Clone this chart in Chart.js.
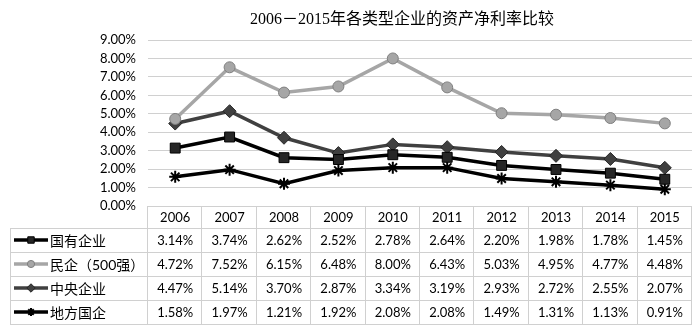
<!DOCTYPE html>
<html>
<head>
<meta charset="utf-8">
<script src="https://cdn.jsdelivr.net/npm/chart.js@4/dist/chart.umd.min.js"></script>
<style>
  html, body { margin: 0; padding: 0; background: #fff; }
  #wrap { width: 700px; height: 329px; position: relative; }
</style>
</head>
<body>
<div id="wrap"><canvas id="chart_assetReturn"></canvas></div>
<script>
var chartTitle = '2006－2015年各类型企业的资产净利率比较';
var years = ['2006', '2007', '2008', '2009', '2010', '2011', '2012', '2013', '2014', '2015'];
var seriesNames = ['国有企业', '民企（500强）', '中央企业', '地方国企'];
var stateOwned = [3.14, 3.74, 2.62, 2.52, 2.78, 2.64, 2.20, 1.98, 1.78, 1.45];
var privateTop500 = [4.72, 7.52, 6.15, 6.48, 8.00, 6.43, 5.03, 4.95, 4.77, 4.48];
var central = [4.47, 5.14, 3.70, 2.87, 3.34, 3.19, 2.93, 2.72, 2.55, 2.07];
var local = [1.58, 1.97, 1.21, 1.92, 2.08, 2.08, 1.49, 1.31, 1.13, 0.91];

var textFont = 'Lato, "Noto Sans CJK SC", sans-serif';
var gridColor = '#d0d0d0';

// title sits over the plot area, not the whole canvas
var titlePlugin = {
    id: 'plotTitle',
    afterDraw: function(chart) {
        var ctx = chart.ctx;
        ctx.save();
        ctx.fillStyle = '#000';
        ctx.font = '16px "Liberation Serif", "Noto Sans CJK SC", serif';
        ctx.textAlign = 'center';
        ctx.textBaseline = 'middle';
        ctx.fillText(chartTitle, 402, 20);
        ctx.restore();
    }
};

// data table drawn under the plot, columns taken from the x scale
var tablePlugin = {
    id: 'dataTable',
    afterDraw: function(chart) {
        var ctx = chart.ctx;
        var xs = chart.scales.x;
        var area = chart.chartArea;
        var colW = (area.right - area.left) / years.length;
        var top = area.bottom;
        var headH = 22, rowH = 24;
        var leftX = 10;
        var rows = chart.data.datasets.length;
        var bottom = top + headH + rows * rowH;
        ctx.save();
        ctx.strokeStyle = gridColor;
        ctx.lineWidth = 1;
        ctx.beginPath();
        // top line (0% axis)
        ctx.moveTo(area.left, Math.round(top) + 0.5); ctx.lineTo(area.right, Math.round(top) + 0.5);
        for (var r = 0; r <= rows; r++) {
            var y = Math.round(top + headH + r * rowH) + 0.5;
            ctx.moveTo(leftX, y); ctx.lineTo(area.right, y);
        }
        ctx.moveTo(leftX + 0.5, top + headH); ctx.lineTo(leftX + 0.5, bottom);
        for (var c = 0; c <= years.length; c++) {
            var x = Math.round(area.left + c * colW) - 0.5;
            ctx.moveTo(x, top); ctx.lineTo(x, bottom);
        }
        ctx.stroke();

        ctx.fillStyle = '#000';
        ctx.font = '13px ' + textFont;
        ctx.textAlign = 'center';
        ctx.textBaseline = 'middle';
        years.forEach(function(yr, i) {
            ctx.fillText(yr, xs.getPixelForValue(i), top + headH / 2 + 1);
        });
        chart.data.datasets.forEach(function(ds, r) {
            var cy = top + headH + r * rowH + rowH / 2 + 1;
            ctx.textAlign = 'center';
            ctx.fillStyle = '#000';
            ds.data.forEach(function(v, i) {
                ctx.fillText(v.toFixed(2) + '%', xs.getPixelForValue(i), cy);
            });
            // legend key
            ctx.strokeStyle = ds.borderColor;
            ctx.lineWidth = ds.borderWidth;
            ctx.beginPath();
            ctx.moveTo(14, cy - 1); ctx.lineTo(48, cy - 1);
            ctx.stroke();
            ctx.fillStyle = ds.pointBackgroundColor;
            ctx.strokeStyle = ds.pointBorderColor;
            ctx.lineWidth = ds.pointBorderWidth;
            Chart.helpers.drawPoint(ctx, {
                pointStyle: ds.pointStyle,
                radius: ds.pointRadius * 0.65,
                rotation: 0,
                borderWidth: ds.pointBorderWidth
            }, 31, cy - 1);
            ctx.fillStyle = '#000';
            ctx.textAlign = 'left';
            ctx.font = '14px ' + textFont;
            ctx.fillText(ds.label, 50, cy);
            ctx.font = '13px ' + textFont;
        });
        ctx.restore();
    }
};

var chart_assetReturn = new Chart(document.getElementById('chart_assetReturn'), {
    type: 'line',
    data: {
        labels: years,
        datasets: [
            {
                label: seriesNames[0],
                data: stateOwned,
                borderColor: '#000000',
                borderWidth: 3.5,
                pointStyle: 'rect',
                pointRadius: 7,
                pointBackgroundColor: '#262626',
                pointBorderColor: '#000000',
                pointBorderWidth: 1
            },
            {
                label: seriesNames[1],
                data: privateTop500,
                borderColor: '#a6a6a6',
                borderWidth: 3.5,
                pointStyle: 'circle',
                pointRadius: 5.5,
                pointBackgroundColor: '#a6a6a6',
                pointBorderColor: '#7f7f7f',
                pointBorderWidth: 1
            },
            {
                label: seriesNames[2],
                data: central,
                borderColor: '#404040',
                borderWidth: 3.5,
                pointStyle: 'rectRot',
                pointRadius: 6.5,
                pointBackgroundColor: '#404040',
                pointBorderColor: '#262626',
                pointBorderWidth: 1
            },
            {
                label: seriesNames[3],
                data: local,
                borderColor: '#000000',
                borderWidth: 3.5,
                pointStyle: 'star',
                pointRadius: 6,
                pointBackgroundColor: '#000000',
                pointBorderColor: '#000000',
                pointBorderWidth: 2
            }
        ]
    },
    options: {
        animation: false,
        responsive: true,
        maintainAspectRatio: false,
        layout: {
            padding: { left: 0, right: 3, top: 40, bottom: 123 }
        },
        plugins: {
            legend: { display: false },
            tooltip: { enabled: false },
            title: { display: false }
        },
        scales: {
            x: {
                type: 'category',
                offset: true,
                display: false
            },
            y: {
                min: 0,
                max: 9,
                afterFit: function(scale) { scale.width = 148; },
                ticks: {
                    stepSize: 1,
                    autoSkip: false,
                    color: '#000',
                    font: { family: textFont, size: 13 },
                    padding: 12,
                    callback: function(value) { return value.toFixed(2) + '%'; }
                },
                grid: {
                    color: function(ctx) { return ctx.tick.value === 0 ? 'rgba(0,0,0,0)' : gridColor; },
                    drawTicks: false
                },
                border: { display: false }
            }
        }
    },
    plugins: [titlePlugin, tablePlugin]
});
</script>
</body>
</html>
